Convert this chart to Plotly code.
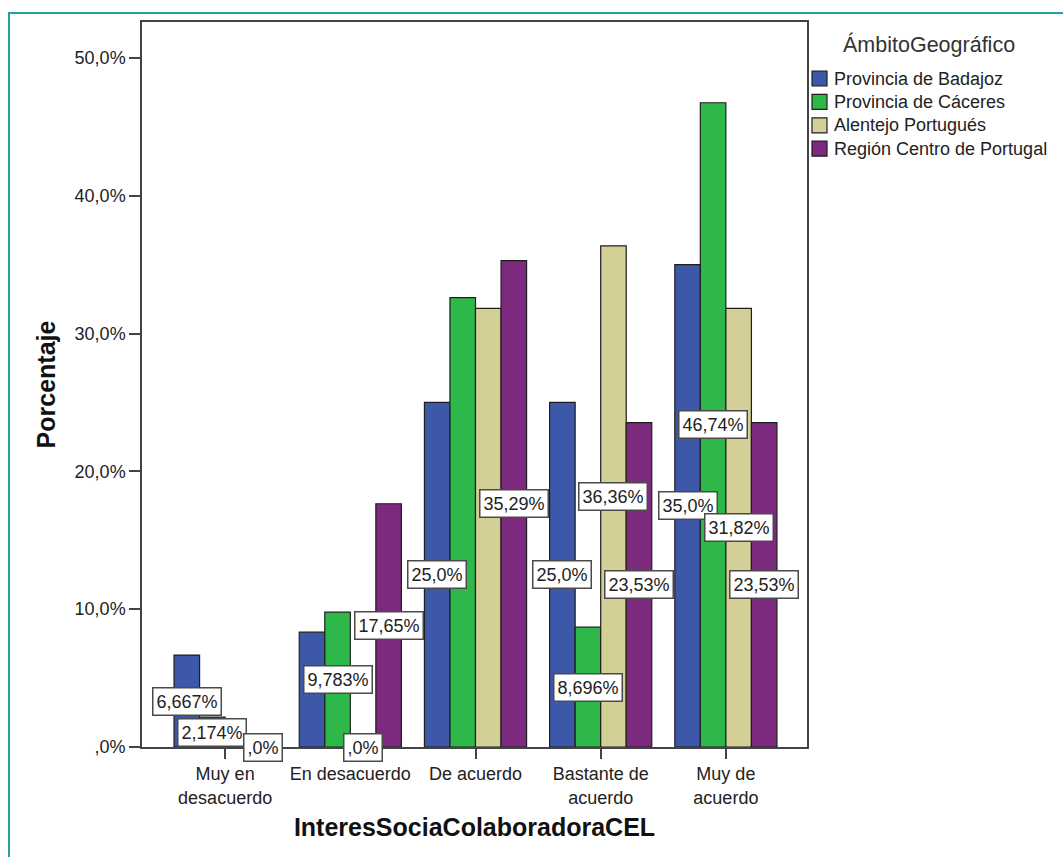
import plotly.graph_objects as go

categories = ["Muy en<br>desacuerdo", "En desacuerdo", "De acuerdo", "Bastante de<br>acuerdo", "Muy de<br>acuerdo"]
series_names = ["Provincia de Badajoz", "Provincia de Cáceres", "Alentejo Portugués", "Región Centro de Portugal"]
badajoz = [6.667, 8.333, 25.0, 25.0, 35.0]
caceres = [2.174, 9.783, 32.61, 8.696, 46.74]
alentejo = [None, 0.0, 31.82, 36.36, 31.82]
centro = [0.0, 17.65, 35.29, 23.53, 23.53]
# labels shown in the chart (None = label not displayed)
badajoz_lbl = ["6,667%", None, "25,0%", "25,0%", "35,0%"]
caceres_lbl = ["2,174%", "9,783%", None, "8,696%", "46,74%"]
alentejo_lbl = [None, ",0%", None, "36,36%", "31,82%"]
centro_lbl = [",0%", "17,65%", "35,29%", "23,53%", "23,53%"]
colors = ["#3d57a9", "#2fb84a", "#d4cf97", "#7c2a7d"]
y_ticks = [0, 10, 20, 30, 40, 50]
y_ticktext = [",0%", "10,0%", "20,0%", "30,0%", "40,0%", "50,0%"]
legend_title = "ÁmbitoGeográfico"

values = [badajoz, caceres, alentejo, centro]
labels = [badajoz_lbl, caceres_lbl, alentejo_lbl, centro_lbl]

FONT = "Liberation Sans, Arial, sans-serif"
W, H = 1063, 857
L, R, T, B = 142, 256, 22, 110
pw = W - L - R
ph = H - T - B
bargap = 0.184


def px(xpix):
    return (xpix - L) / pw


def py(ypix):
    return (T + ph - ypix) / ph


fig = go.Figure()
for name, vals, col in zip(series_names, values, colors):
    fig.add_trace(go.Bar(
        x=list(range(len(categories))), y=vals, name=name,
        marker=dict(color=col, line=dict(color="#1e1e1e", width=1.2)),
        showlegend=False,
    ))

n = len(values)
bw = (1 - bargap) / n
annotations = []
for i, lbls in enumerate(labels):
    for j, lab in enumerate(lbls):
        if lab is None:
            continue
        v = values[i][j] or 0.0
        annotations.append(dict(
            x=j + (i - (n - 1) / 2) * bw, y=v / 2, xref="x", yref="y",
            text=lab, showarrow=False,
            font=dict(family=FONT, size=18, color="#222"),
            bgcolor="white", bordercolor="#4a4a4a", borderwidth=1.5, borderpad=3,
        ))

shapes = []
# outer teal frame
shapes.append(dict(type="rect", xref="paper", yref="paper",
                   x0=px(9), x1=px(W + 20), y0=py(H + 20), y1=py(13),
                   line=dict(color="#22a19e", width=2), fillcolor="rgba(0,0,0,0)", layer="below"))

# legend (title + swatches + names)
annotations.append(dict(
    x=px(841), y=py(45), xref="paper", yref="paper", xanchor="left", yanchor="middle",
    text=legend_title, showarrow=False, font=dict(family=FONT, size=21.5, color="#333"),
))
for k, (name, col) in enumerate(zip(series_names, colors)):
    cy = 78.5 + k * 23.4
    shapes.append(dict(type="rect", xref="paper", yref="paper",
                       x0=px(812), x1=px(827), y0=py(cy + 7.5), y1=py(cy - 7.5),
                       fillcolor=col, line=dict(color="#1e1e1e", width=1.2)))
    annotations.append(dict(
        x=px(832), y=py(cy), xref="paper", yref="paper", xanchor="left", yanchor="middle",
        text=name, showarrow=False, font=dict(family=FONT, size=18, color="#222"),
    ))

fig.update_layout(
    width=W, height=H,
    margin=dict(l=L, r=R, t=T, b=B, pad=0),
    paper_bgcolor="white", plot_bgcolor="white",
    barmode="group", bargap=bargap, bargroupgap=0,
    font=dict(family=FONT, size=18, color="#222"),
    annotations=annotations, shapes=shapes,
    showlegend=False,
    xaxis=dict(
        tickmode="array", tickvals=list(range(len(categories))), ticktext=categories,
        range=[-0.664, 4.648], showgrid=False, zeroline=False,
        showline=True, linecolor="#444", linewidth=1.5, mirror=True,
        ticks="outside", ticklen=10, tickcolor="#444", tickwidth=1.5,
        tickfont=dict(family=FONT, size=18, color="#222"),
        title=dict(text="<b>InteresSociaColaboradoraCEL</b>", standoff=12,
                   font=dict(family=FONT, size=25, color="#111")),
    ),
    yaxis=dict(
        range=[0, 52.6], tickmode="array", tickvals=y_ticks, ticktext=y_ticktext,
        showgrid=False, zeroline=False,
        showline=True, linecolor="#444", linewidth=1.5, mirror=True,
        ticks="outside", ticklen=11, tickcolor="#444", tickwidth=1.5,
        tickfont=dict(family=FONT, size=18, color="#222"),
        title=dict(text="<b>Porcentaje</b>", standoff=12,
                   font=dict(family=FONT, size=25, color="#111")),
    ),
)

fig.write_html("out.html", config={"displayModeBar": False},
               post_script="document.body.style.margin='0px';")
